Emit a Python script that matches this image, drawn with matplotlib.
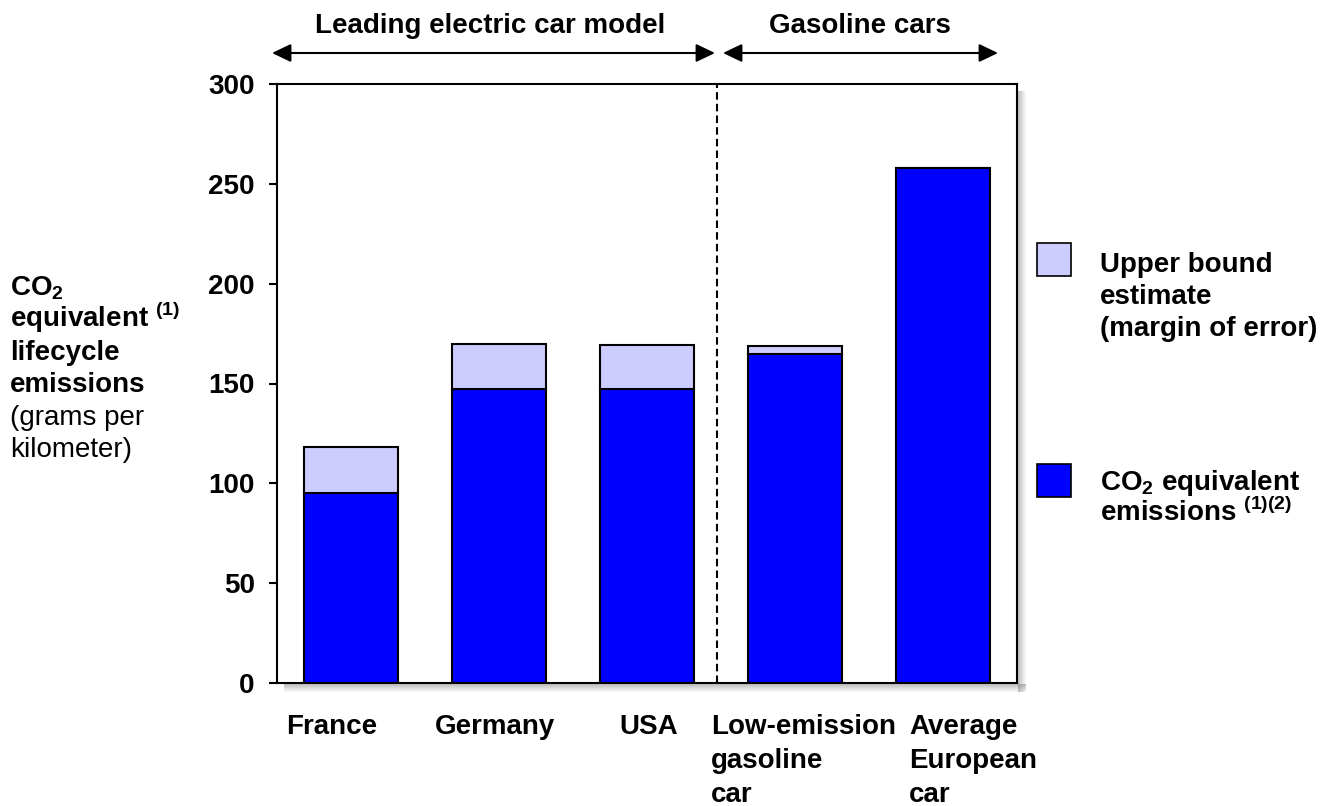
import matplotlib
matplotlib.use("Agg")
import matplotlib.pyplot as plt
from matplotlib.patches import Rectangle

plt.rcParams['font.family'] = ['Liberation Sans', 'DejaVu Sans']
plt.rcParams['mathtext.fontset'] = 'custom'
plt.rcParams['mathtext.rm'] = 'Liberation Sans'
plt.rcParams['mathtext.bf'] = 'Liberation Sans:bold'

# data (grams CO2e per km)
cars = ["France", "Germany", "USA", "Low-emission\ngasoline\ncar", "Average\nEuropean\ncar"]
emissions = [95, 147, 147, 165, 258]
upper_bound = [118, 170, 169.5, 169, 258]
yticks = [0, 50, 100, 150, 200, 250, 300]

dark = "#0000FF"
light = "#CCCCFF"
W, H = 1341, 806
FS = 20


def fx(x):
    return x / W


def fy(y):
    return 1 - y / H


fig = plt.figure(figsize=(13.41, 8.06), dpi=100)
ax = fig.add_axes([fx(277), fy(683), fx(1017) - fx(277), fy(84) - fy(683)])

x = list(range(len(cars)))
margin = [u - e for u, e in zip(upper_bound, emissions)]
ax.bar(x, emissions, width=0.64, color=dark, edgecolor="black", linewidth=1.5, zorder=2)
ax.bar(x, margin, bottom=emissions, width=0.64, color=light, edgecolor="black",
       linewidth=1.5, zorder=2)

ax.set_xlim(-0.5, 4.5)
ax.set_ylim(0, 300)
ax.set_yticks(yticks)
ax.set_yticklabels([str(v) for v in yticks], fontsize=FS, fontweight="bold")
ax.tick_params(axis="y", direction="out", length=6, width=1.5, pad=10)
ax.set_xticks([])
for s in ax.spines.values():
    s.set_linewidth(1.5)

# divider between electric and gasoline
ax.axvline(2.47, color="black", lw=1.5, dashes=(3.6, 2), zorder=1)

# x labels, left aligned like the original text boxes
lab_off = [-0.436, -0.435, -0.185, -0.569, -0.23]
for i, lab in enumerate(cars):
    ax.text(i + lab_off[i], -0.052, lab, transform=ax.get_xaxis_transform(),
            ha="left", va="top", fontsize=FS, fontweight="bold", linespacing=1.4)

# drop shadow of the frame
for k in range(8):
    a = 0.5 * (1 - k / 8)
    fig.add_artist(Rectangle((fx(1018 + k), fy(692)), fx(1), fy(91) - fy(692),
                             transform=fig.transFigure, color="gray", alpha=a, lw=0))
    fig.add_artist(Rectangle((fx(284), fy(684 + k + 1)), fx(1026) - fx(284), fy(684) - fy(685),
                             transform=fig.transFigure, color="gray", alpha=a, lw=0))

# group headers with arrows
fig.text(fx(490), fy(33), "Leading electric car model", ha="center", va="baseline",
         fontsize=FS, fontweight="bold")
fig.text(fx(860), fy(33), "Gasoline cars", ha="center", va="baseline",
         fontsize=FS, fontweight="bold")
arrow = dict(arrowstyle="<|-|>,head_length=1.15,head_width=0.55", color="black",
             lw=1.5, shrinkA=0, shrinkB=0, mutation_scale=10)
ax.annotate("", xy=(715, H - 53), xytext=(272, H - 53), xycoords="figure pixels",
            textcoords="figure pixels", arrowprops=arrow, annotation_clip=False)
ax.annotate("", xy=(998, H - 53), xytext=(723, H - 53), xycoords="figure pixels",
            textcoords="figure pixels", arrowprops=arrow, annotation_clip=False)

# y axis title
ylab = [r"CO$_\mathbf{2}$", r"equivalent $^{\mathbf{(1)}}$", "lifecycle", "emissions",
        "(grams per", "kilometer)"]
for j, line in enumerate(ylab):
    fig.text(fx(10), fy(295 + 32.4 * j), line, ha="left", va="baseline", fontsize=FS,
             fontweight="bold" if j < 4 else "normal")

# legend
fig.add_artist(Rectangle((fx(1037), fy(276)), fx(34), fy(243) - fy(276), transform=fig.transFigure,
                         facecolor=light, edgecolor="black", lw=1.2))
fig.add_artist(Rectangle((fx(1037), fy(497)), fx(34), fy(464) - fy(497), transform=fig.transFigure,
                         facecolor=dark, edgecolor="black", lw=1.2))
leg1 = ["Upper bound", "estimate", "(margin of error)"]
for j, line in enumerate(leg1):
    fig.text(fx(1100), fy(272 + 32 * j), line, ha="left", va="baseline",
             fontsize=FS, fontweight="bold")
leg2 = [r"CO$_\mathbf{2}$ equivalent", r"emissions $^{\mathbf{(1)(2)}}$"]
for j, line in enumerate(leg2):
    fig.text(fx(1100), fy(490 + 31 * j), line, ha="left", va="baseline",
             fontsize=FS, fontweight="bold")

fig.savefig("out.png", dpi=100)
